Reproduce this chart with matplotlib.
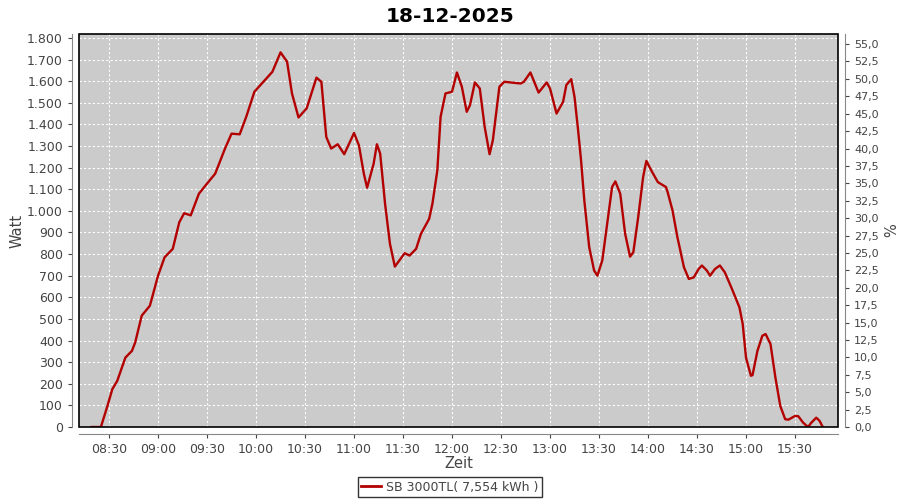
#!/usr/bin/env python3
import numpy as np
import pandas as pd
import matplotlib
matplotlib.use("Agg")
import matplotlib.pyplot as plt
import matplotlib.dates as mdates
from matplotlib.ticker import FuncFormatter, MultipleLocator
from matplotlib.patches import Rectangle

# Daily yield curve of the inverter (time of day, power in watts)
times = ["08:19", "08:25", "08:29", "08:32", "08:35", "08:40", "08:44", "08:46",
         "08:50", "08:55", "09:00", "09:04", "09:09", "09:13", "09:16", "09:20",
         "09:25", "09:30", "09:35", "09:41", "09:45", "09:50", "09:54", "09:59",
         "10:04", "10:10", "10:15", "10:19", "10:22", "10:26", "10:31", "10:37",
         "10:40", "10:43", "10:46", "10:50", "10:54", "11:00", "11:03", "11:06",
         "11:08", "11:12", "11:14", "11:16", "11:19", "11:22", "11:25", "11:31",
         "11:34", "11:38", "11:41", "11:46", "11:48", "11:51", "11:53", "11:56",
         "12:00", "12:03", "12:06", "12:09", "12:11", "12:14", "12:17", "12:20",
         "12:23", "12:25", "12:29", "12:32", "12:42", "12:44", "12:48", "12:53",
         "12:58", "13:00", "13:04", "13:08", "13:10", "13:13", "13:15", "13:17",
         "13:19", "13:21", "13:24", "13:27", "13:29", "13:32", "13:35", "13:38",
         "13:40", "13:43", "13:46", "13:49", "13:51", "13:54", "13:57", "13:59",
         "14:02", "14:06", "14:11", "14:12", "14:15", "14:18", "14:22", "14:25",
         "14:28", "14:31", "14:33", "14:36", "14:38", "14:41", "14:44", "14:47",
         "14:51", "14:56", "14:58", "15:00", "15:03", "15:04", "15:07", "15:10",
         "15:12", "15:15", "15:18", "15:21", "15:24", "15:26", "15:30", "15:32",
         "15:35", "15:38", "15:40", "15:43", "15:45", "15:47"]
watt = [0, 0, 97, 175, 213, 321, 352, 391,
        515, 561, 700, 785, 824, 947, 989, 979,
        1079, 1126, 1172, 1288, 1357, 1354, 1435, 1551,
        1593, 1643, 1733, 1690, 1543, 1432, 1474, 1616,
        1597, 1342, 1288, 1308, 1262, 1360, 1303, 1172,
        1107, 1218, 1308, 1265, 1033, 847, 742, 804,
        793, 824, 894, 963, 1033, 1187, 1435, 1543,
        1551, 1640, 1574, 1458, 1489, 1594, 1566, 1388,
        1262, 1327, 1574, 1597, 1589, 1597, 1640, 1547,
        1594, 1566, 1450, 1504, 1582, 1609, 1527, 1388,
        1234, 1048, 832, 724, 700, 770, 940, 1110,
        1136, 1079, 894, 788, 808, 971, 1156, 1231,
        1187, 1133, 1110, 1087, 1002, 878, 739, 685,
        692, 731, 747, 724, 700, 731, 747, 716,
        646, 553, 476, 321, 237, 240, 352, 422,
        430, 384, 229, 97, 36, 34, 51, 50,
        20, 0, 20, 43, 29, 0]

day = "2025-12-18"
title = "18-12-2025"
series_label = "SB 3000TL( 7,554 kWh )"
x_start, x_end = "08:11:36", "15:56:20"
watt_max = 1818
pct_max = 56.45

t = pd.to_datetime([f"{day} {s}" for s in times])

fig = plt.figure(figsize=(9, 5), dpi=100)
ax = fig.add_axes([79 / 900, 1 - 427 / 500, 759 / 900, 393 / 500])
ax2 = ax.twinx()

ax.set_facecolor("#cbcbcb")
ax.plot(t, watt, color="#b30000", lw=1.7, zorder=3,
        solid_joinstyle="round", solid_capstyle="round")

ax.set_xlim(pd.Timestamp(f"{day} {x_start}"), pd.Timestamp(f"{day} {x_end}"))
ax.set_ylim(0, watt_max)
ax2.set_ylim(0, pct_max)

ax.xaxis.set_major_locator(mdates.MinuteLocator(byminute=[0, 30]))
ax.xaxis.set_major_formatter(mdates.DateFormatter("%H:%M"))
ax.yaxis.set_major_locator(MultipleLocator(100))
ax.yaxis.set_major_formatter(FuncFormatter(lambda v, p: f"{v:,.0f}".replace(",", ".")))
ax2.yaxis.set_major_locator(MultipleLocator(2.5))
ax2.yaxis.set_major_formatter(FuncFormatter(lambda v, p: f"{v:.1f}".replace(".", ",")))

ax.grid(True, color="white", linestyle=(0, (2, 2)), linewidth=0.8)
ax.set_axisbelow(True)

tick_color = "#444444"
ax.tick_params(labelsize=9, colors=tick_color, length=3, width=0.8)
ax2.tick_params(labelsize=8, colors=tick_color, length=3, width=0.8)
for a in (ax, ax2):
    for s in a.spines.values():
        s.set_visible(False)
ax.spines["left"].set_visible(True)
ax.spines["bottom"].set_visible(True)
ax2.spines["right"].set_visible(True)
for s in (ax.spines["left"], ax.spines["bottom"], ax2.spines["right"]):
    s.set_position(("outward", 5))
    s.set_color("#888888")

# black outline around the plot area
ax.add_patch(Rectangle((0, 0), 1, 1, transform=ax.transAxes, fill=False,
                       edgecolor="black", lw=1.2, zorder=10, clip_on=False))

ax.set_ylabel("Watt", fontsize=10.5, color=tick_color, labelpad=2)
ax.set_xlabel("Zeit", fontsize=10.5, color=tick_color, labelpad=0)
ax2.set_ylabel("%", fontsize=10.5, color=tick_color, labelpad=4)

fig.suptitle(title, y=0.985, fontsize=14.5, fontweight="bold",
             family=["Liberation Sans Narrow", "DejaVu Sans"])

leg = ax.legend([plt.Line2D([], [], color="#b30000", lw=2)], [series_label],
                loc="center", bbox_to_anchor=(0.5, 0.026), bbox_transform=fig.transFigure,
                fontsize=9, frameon=True, fancybox=False, handlelength=1.6,
                handletextpad=0.4, borderpad=0.25, labelcolor=tick_color)
leg.get_frame().set_edgecolor("black")
leg.get_frame().set_linewidth(1.0)

fig.savefig("out.png", dpi=100)
